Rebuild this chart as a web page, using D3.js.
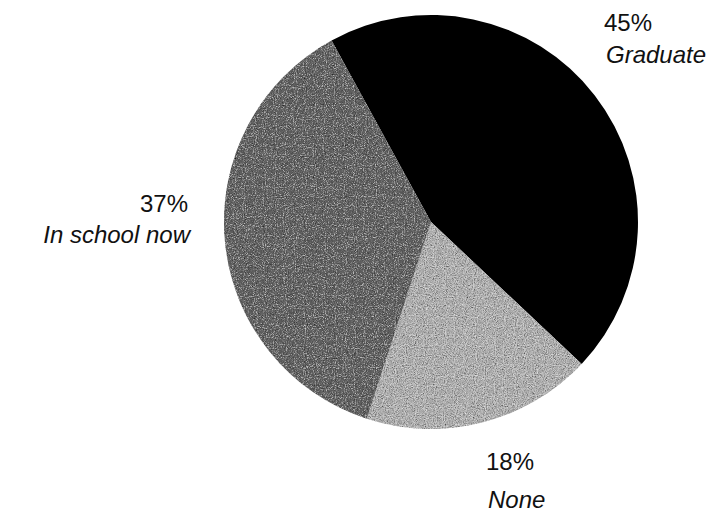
<!DOCTYPE html>
<html>
<head>
<meta charset="utf-8">
<script src="https://cdn.jsdelivr.net/npm/d3@7"></script>
<style>
  html, body { margin: 0; padding: 0; background: #fff; }
  svg { display: block; }
  text { font-family: "Liberation Sans", Arial, Helvetica, sans-serif; fill: #111; }
</style>
</head>
<body>
<svg id="chart" width="725" height="517"></svg>
<script>
// Share of respondents by schooling status (percent)
const categories = ["Graduate", "None", "In school now"];
const values = [45, 18, 37];
const percentLabels = ["45%", "18%", "37%"];

const width = 725, height = 517;
const cx = 431, cy = 222, radius = 207;
const startDeg = -28.7;

const fills = ["#000000", "#c0c0c0", "#6a6a6a"];
const textures = [false, true, true];

const svg = d3.select("#chart");

// grainy halftone-like texture for the gray wedges
const defs = svg.append("defs");
const grain = defs.append("filter").attr("id", "grain")
  .attr("x", 0).attr("y", 0).attr("width", 1).attr("height", 1);
grain.append("feTurbulence").attr("type", "fractalNoise")
  .attr("baseFrequency", 0.9).attr("numOctaves", 2).attr("seed", 3).attr("result", "noise");
grain.append("feColorMatrix").attr("in", "noise").attr("type", "matrix")
  .attr("values", "0 0 0 0 0  0 0 0 0 0  0 0 0 0 0  1.6 0 0 0 -0.55")
  .attr("result", "dark");
grain.append("feComposite").attr("in", "dark").attr("in2", "SourceGraphic")
  .attr("operator", "in").attr("result", "darkIn");
grain.append("feColorMatrix").attr("in", "noise").attr("type", "matrix")
  .attr("values", "0 0 0 0 1  0 0 0 0 1  0 0 0 0 1  0 -1.6 0 0 0.75")
  .attr("result", "light");
grain.append("feComposite").attr("in", "light").attr("in2", "SourceGraphic")
  .attr("operator", "in").attr("result", "lightIn");
const merge = grain.append("feMerge");
merge.append("feMergeNode").attr("in", "SourceGraphic");
merge.append("feMergeNode").attr("in", "darkIn");
merge.append("feMergeNode").attr("in", "lightIn");

const data = categories.map((c, i) => ({ category: c, value: values[i], label: percentLabels[i], i }));

const pie = d3.pie()
  .sort(null)
  .value(d => d.value)
  .startAngle(startDeg * Math.PI / 180)
  .endAngle((startDeg + 360) * Math.PI / 180);

const arc = d3.arc().innerRadius(0).outerRadius(radius);

const g = svg.append("g").attr("transform", `translate(${cx},${cy})`);

g.selectAll("path.slice")
  .data(pie(data))
  .join("path")
  .attr("class", "slice")
  .attr("d", arc)
  .attr("fill", d => fills[d.data.i])
  .attr("filter", d => textures[d.data.i] ? "url(#grain)" : null);

// Labels: percent on the first line, category in italics below
const labelPos = [
  { x: 604, y: 31, anchor: "start", dy: 32 },   // Graduate
  { x: 486, y: 470, anchor: "start", dy: 38 },  // None
  { x: 188, y: 212, anchor: "end", dy: 31 }     // In school now
];

const labels = svg.append("g").selectAll("g.label")
  .data(data)
  .join("g")
  .attr("class", "label");

labels.append("text")
  .attr("x", d => labelPos[d.i].x)
  .attr("y", d => labelPos[d.i].y)
  .attr("text-anchor", d => labelPos[d.i].anchor)
  .attr("font-size", 24)
  .text(d => d.label);

labels.append("text")
  .attr("x", d => labelPos[d.i].x + 2)
  .attr("y", d => labelPos[d.i].y + labelPos[d.i].dy)
  .attr("text-anchor", d => labelPos[d.i].anchor)
  .attr("font-size", 24)
  .attr("font-style", "italic")
  .text(d => d.category);
</script>
</body>
</html>
